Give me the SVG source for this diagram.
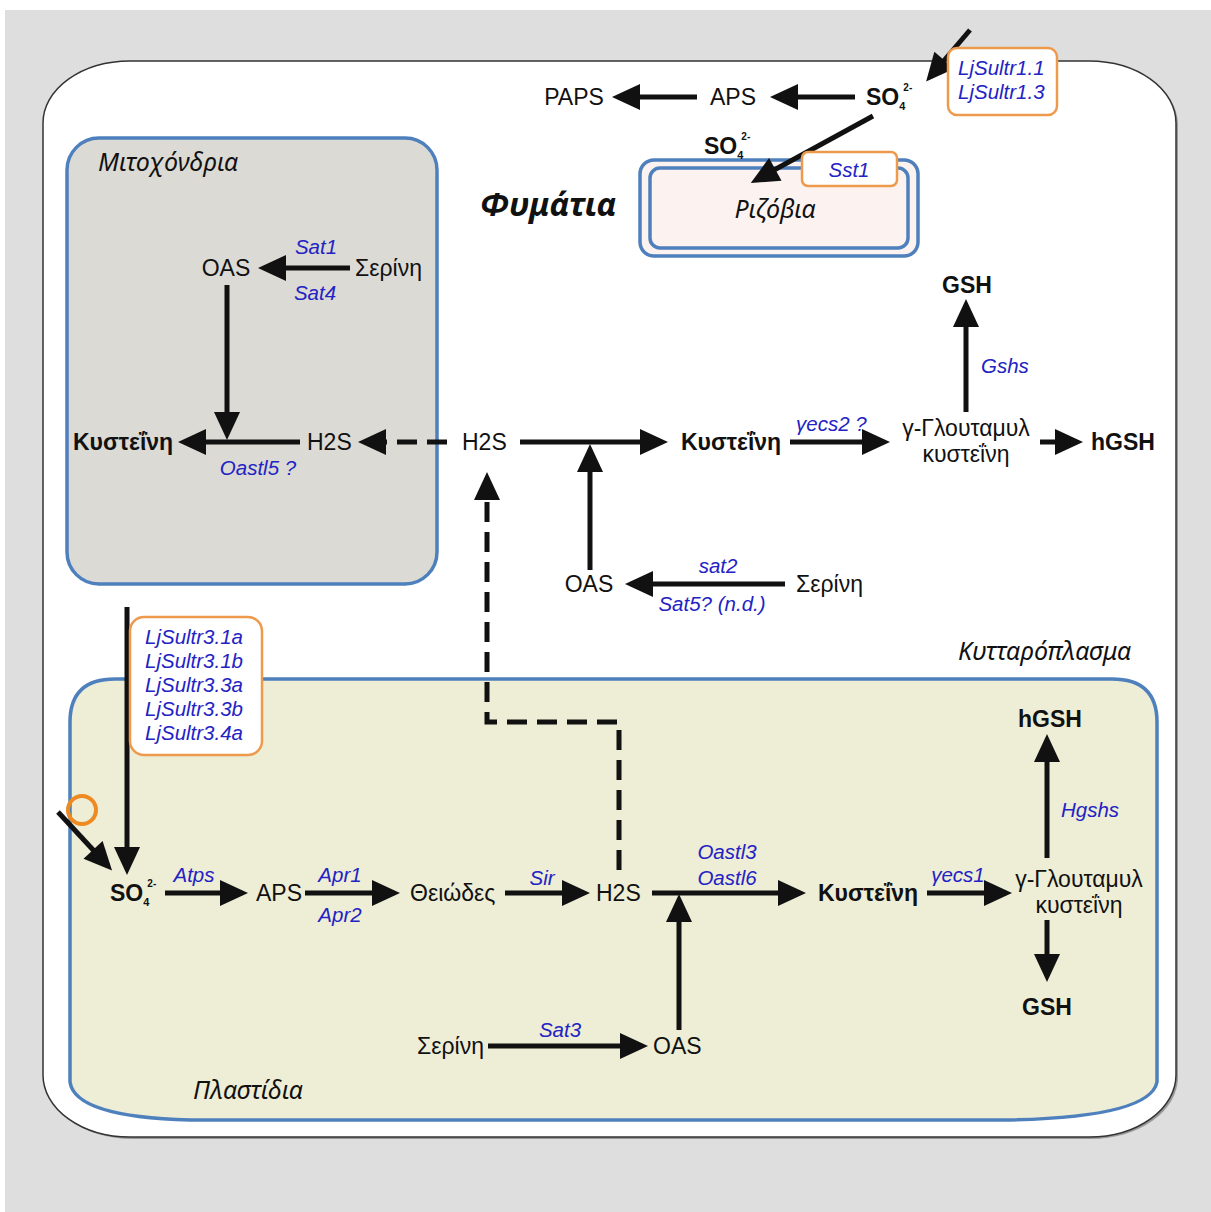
<svg xmlns="http://www.w3.org/2000/svg" width="1211" height="1212" viewBox="0 0 1211 1212">
<defs>
<marker id="ah" markerUnits="userSpaceOnUse" markerWidth="28" markerHeight="26" refX="22" refY="13" orient="auto" overflow="visible">
<path d="M0,0 L28,13 L0,26 z" fill="#111"/>
</marker>
<style>
.t{font-family:"Liberation Sans",Arial,sans-serif;font-size:23px;fill:#111}
.b{font-weight:bold}
.e{font-family:"Liberation Sans",Arial,sans-serif;font-size:20.5px;font-style:italic;fill:#2323c4}
.c{font-family:"Noto Sans","Open Sans","Liberation Sans",sans-serif;font-size:25px;font-style:italic;fill:#111}
.ar{stroke:#111;stroke-width:5;fill:none;marker-end:url(#ah)}
.ds{stroke:#111;stroke-width:5;fill:none;stroke-dasharray:20 10;marker-end:url(#ah)}
.ob{fill:#fff;stroke:#ee9a4d;stroke-width:2.5}
.bl{stroke:#4d80bd;stroke-width:3.5}
</style>
</defs>
<rect x="0" y="0" width="1211" height="1212" fill="#fff"/>
<rect x="5" y="10" width="1206" height="1202" fill="#dedede"/>

<g id="cell">
<rect x="45" y="63" width="1133" height="1076" rx="87" ry="62" fill="#999"/>
<rect x="43" y="61" width="1133" height="1076" rx="87" ry="62" fill="#fff" stroke="#333" stroke-width="1.5"/>
<text class="c" x="958" y="660">Κυτταρόπλασμα</text>
</g>

<g id="mitochondria">
<rect class="bl" x="67" y="138" width="370" height="446" rx="32" fill="#dcdad5"/>
<text class="c" x="98" y="171">Μιτοχόνδρια</text>
</g>

<g id="plastid">
<path class="bl" d="M70,722 Q70,679 115,679 L1112,679 Q1157,679 1157,722 L1157,1082 Q1150,1117 1010,1120 L190,1120 Q75,1117 70,1082 Z" fill="#eeedd6"/>
<text class="c" x="193" y="1099">Πλαστίδια</text>
</g>

<g id="rhizobia">
<rect class="bl" x="640" y="160" width="278" height="96" rx="14" fill="#fcf3f1"/>
<rect class="bl" x="650" y="168" width="258" height="80" rx="10" fill="none"/>
<text class="c" x="775" y="218" text-anchor="middle" font-size="23">Ριζόβια</text>
</g>

<g id="nodules-label">
<text x="480" y="216" font-family="Noto Sans,Open Sans,Liberation Sans,sans-serif" font-size="33" font-weight="bold" font-style="italic" fill="#111">Φυμάτια</text>
</g>

<g id="connectors">
<line class="ar" x1="697" y1="97" x2="618" y2="97"/>
<line class="ar" x1="855" y1="97" x2="776" y2="97"/>
<line class="ar" x1="970" y1="30" x2="930" y2="77"/>
<line class="ar" x1="873" y1="116" x2="756" y2="180"/>
<line class="ar" x1="350" y1="268" x2="264" y2="268"/>
<line class="ar" x1="227" y1="285" x2="227" y2="434"/>
<line class="ar" x1="300" y1="442" x2="184" y2="442"/>
<line class="ds" x1="447" y1="442" x2="364" y2="442"/>
<line class="ar" x1="520" y1="442" x2="662" y2="442"/>
<line class="ar" x1="590" y1="570" x2="590" y2="450"/>
<line class="ar" x1="785" y1="584" x2="631" y2="584"/>
<line class="ar" x1="790" y1="442" x2="884" y2="442"/>
<line class="ar" x1="966" y1="412" x2="966" y2="305"/>
<line class="ar" x1="1040" y1="442" x2="1077" y2="442"/>
<line class="ar" x1="127" y1="607" x2="127" y2="869"/>
<line class="ar" x1="58" y1="812" x2="108" y2="866"/>
<line class="ar" x1="165" y1="893" x2="242" y2="893"/>
<line class="ar" x1="305" y1="893" x2="394" y2="893"/>
<line class="ar" x1="505" y1="893" x2="584" y2="893"/>
<line class="ar" x1="652" y1="893" x2="800" y2="893"/>
<line class="ar" x1="679" y1="1030" x2="679" y2="900"/>
<line class="ar" x1="927" y1="893" x2="1006" y2="893"/>
<line class="ar" x1="1047" y1="858" x2="1047" y2="740"/>
<line class="ar" x1="1047" y1="920" x2="1047" y2="976"/>
<line class="ar" x1="488" y1="1046" x2="642" y2="1046"/>
<path class="ds" d="M619,870 L619,722 L487,722 L487,478"/>
<circle cx="82" cy="810" r="14" fill="none" stroke="#ee8a22" stroke-width="4"/>
</g>

<g id="n-paps"><text class="t" x="574" y="105" text-anchor="middle">PAPS</text></g>
<g id="n-aps-top"><text class="t" x="733" y="105" text-anchor="middle">APS</text></g>
<g id="n-so4-top"><text class="t b" x="866" y="105">SO<tspan font-size="11" dy="5">4</tspan><tspan font-size="10" dx="-2" dy="-19">2-</tspan></text></g>
<g id="n-sultr1">
<rect class="ob" x="948" y="48" width="109" height="67" rx="9"/>
<text class="e" x="958" y="75">LjSultr1.1</text>
<text class="e" x="958" y="99">LjSultr1.3</text>
</g>
<g id="n-so4-rhiz"><text class="t b" x="704" y="154">SO<tspan font-size="11" dy="5">4</tspan><tspan font-size="10" dx="-2" dy="-19">2-</tspan></text></g>
<g id="n-sst1">
<rect class="ob" x="802" y="152" width="95" height="34" rx="6"/>
<text class="e" x="849" y="177" text-anchor="middle">Sst1</text>
</g>

<g id="n-mito">
<text class="t" x="226" y="276" text-anchor="middle">OAS</text>
<text class="t" x="355" y="276">Σερίνη</text>
<text class="e" x="316" y="254" text-anchor="middle">Sat1</text>
<text class="e" x="315" y="300" text-anchor="middle">Sat4</text>
<text class="t b" x="73" y="450">Κυστεΐνη</text>
<text class="t" x="307" y="450">H2S</text>
<text class="e" x="258" y="475" text-anchor="middle">Oastl5 ?</text>
</g>

<g id="n-cyto">
<text class="t" x="462" y="450">H2S</text>
<text class="t b" x="681" y="450">Κυστεΐνη</text>
<text class="e" x="796" y="431">γecs2 ?</text>
<text class="t" x="966" y="436" text-anchor="middle">γ-Γλουταμυλ</text>
<text class="t" x="966" y="462" text-anchor="middle">κυστεΐνη</text>
<text class="t b" x="967" y="293" text-anchor="middle">GSH</text>
<text class="e" x="981" y="373">Gshs</text>
<text class="t b" x="1091" y="450">hGSH</text>
<text class="t" x="589" y="592" text-anchor="middle">OAS</text>
<text class="t" x="796" y="592">Σερίνη</text>
<text class="e" x="718" y="573" text-anchor="middle">sat2</text>
<text class="e" x="712" y="611" text-anchor="middle">Sat5? (n.d.)</text>
</g>

<g id="n-sultr3">
<rect class="ob" x="130" y="617" width="132" height="138" rx="14"/>
<text class="e" x="145" y="644">LjSultr3.1a</text>
<text class="e" x="145" y="668">LjSultr3.1b</text>
<text class="e" x="145" y="692">LjSultr3.3a</text>
<text class="e" x="145" y="716">LjSultr3.3b</text>
<text class="e" x="145" y="740">LjSultr3.4a</text>
</g>

<g id="n-plastid">
<text class="t b" x="110" y="901">SO<tspan font-size="11" dy="5">4</tspan><tspan font-size="10" dx="-2" dy="-19">2-</tspan></text>
<text class="e" x="194" y="882" text-anchor="middle">Atps</text>
<text class="t" x="256" y="901">APS</text>
<text class="e" x="340" y="882" text-anchor="middle">Apr1</text>
<text class="e" x="340" y="922" text-anchor="middle">Apr2</text>
<text class="t" x="410" y="901">Θειώδες</text>
<text class="e" x="542" y="885" text-anchor="middle">Sir</text>
<text class="t" x="596" y="901">H2S</text>
<text class="e" x="727" y="859" text-anchor="middle">Oastl3</text>
<text class="e" x="727" y="885" text-anchor="middle">Oastl6</text>
<text class="t b" x="818" y="901">Κυστεΐνη</text>
<text class="e" x="958" y="882" text-anchor="middle">γecs1</text>
<text class="t" x="1079" y="887" text-anchor="middle">γ-Γλουταμυλ</text>
<text class="t" x="1079" y="913" text-anchor="middle">κυστεΐνη</text>
<text class="t b" x="1050" y="727" text-anchor="middle">hGSH</text>
<text class="e" x="1090" y="817" text-anchor="middle">Hgshs</text>
<text class="t b" x="1047" y="1015" text-anchor="middle">GSH</text>
<text class="t" x="484" y="1054" text-anchor="end">Σερίνη</text>
<text class="e" x="560" y="1037" text-anchor="middle">Sat3</text>
<text class="t" x="653" y="1054">OAS</text>
</g>
</svg>
